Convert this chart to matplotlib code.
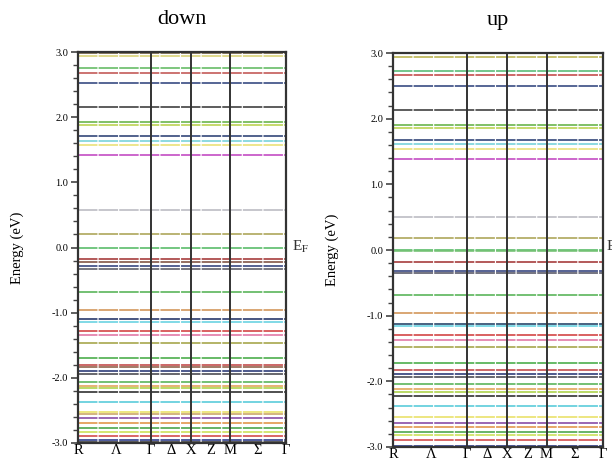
import matplotlib
matplotlib.use("Agg")
import matplotlib.pyplot as plt

plt.rcParams['font.family'] = ['Liberation Serif', 'DejaVu Serif']
plt.rcParams['axes.unicode_minus'] = False
plt.rcParams['mathtext.fontset'] = 'stix'

# high-symmetry points (fraction of path) and labels
k_ticks = [0.0, 0.351, 0.543, 0.731, 1.0]
k_labels = ["R", "Λ", "Γ", "Δ", "X", "Z", "M", "Σ", "Γ"]
k_label_pos = [0.0, 0.183, 0.351, 0.447, 0.543, 0.64, 0.731, 0.865, 1.0]

# band energies (eV) and colours, spin down
down_E = [2.98, 2.94, 2.75, 2.68, 2.53, 2.15, 1.92, 1.88, 1.71, 1.63, 1.57, 1.42,
          0.57, 0.21, -0.01, -0.18, -0.22, -0.29, -0.33, -0.69, -0.96, -1.10, -1.14,
          -1.28, -1.34, -1.47, -1.70, -1.80, -1.83, -1.90, -1.94, -2.06, -2.12,
          -2.16, -2.21, -2.37, -2.52, -2.55, -2.62, -2.70, -2.77, -2.83, -2.90,
          -2.96, -2.99]
down_C = ["#6b5a3a", "#d8d070", "#5cb85c", "#c0504d", "#2a3f7a", "#333333", "#60b040",
          "#b8d048", "#253a70", "#70d0d8", "#e8e070", "#c040c0",
          "#b8b8c0", "#a8a050", "#50b860", "#a03030", "#7a4a3a", "#2a3a78", "#555560",
          "#50b050", "#d09050", "#1a2a60", "#60d0e0",
          "#d03838", "#e070a0", "#a0a040", "#40a840", "#c04040", "#8a5a40", "#203070",
          "#404048", "#50b050", "#e0a050",
          "#a8d040", "#222222", "#50c8d8", "#e8e060", "#c8a060", "#8040a0", "#e09040",
          "#40a040", "#c8e050", "#d04040",
          "#203080", "#303030"]

# spin up
up_E = [2.94, 2.73, 2.66, 2.50, 2.13, 1.90, 1.86, 1.67, 1.61, 1.54, 1.39,
        0.51, 0.18, 0.0, -0.02, -0.19, -0.32, -0.35, -0.68, -0.96, -1.12, -1.16,
        -1.30, -1.37, -1.47, -1.72, -1.82, -1.89, -1.93, -2.04, -2.12, -2.16,
        -2.22, -2.37, -2.54, -2.63, -2.69, -2.77, -2.81, -2.89, -2.99]
up_C = ["#b8b048", "#50b870", "#c04040", "#2a3f7a", "#333333", "#60b040", "#b8d048",
        "#253a70", "#70d0d8", "#e8e070", "#c040c0",
        "#b8b8c0", "#a8a050", "#50b860", "#70c070", "#a03030", "#2a3a78", "#505060",
        "#50b050", "#d09050", "#1a3a60", "#60d0e0",
        "#d03838", "#e070a0", "#a0a040", "#40a840", "#c04040", "#203070", "#404048",
        "#50b050", "#e0a050", "#a8d040",
        "#222222", "#50c8d8", "#e8e060", "#8040a0", "#e09040", "#40a040", "#c8e050",
        "#d04040", "#203080"]

panels = [
    ("down", down_E, down_C, [78/612, 1-443/462, 208/612, 391/462], 292),
    ("up", up_E, up_C, [393/612, 1-447/462, 210/612, 394/462], 606),
]

fig = plt.figure(figsize=(6.12, 4.62), dpi=100)

for title, E, C, rect, efx in panels:
    ax = fig.add_axes(rect)
    for e, c in zip(E, C):
        ax.plot([0, 1], [e, e], color=c, lw=1.4, alpha=0.8,
                linestyle=(0, (10, 0.6)), solid_capstyle='butt')
    for k in k_ticks[1:-1]:
        ax.axvline(k, color="#333333", lw=1.4)
    ax.set_xlim(0, 1)
    ax.set_ylim(-3.0, 3.0)
    ax.set_yticks([3.0, 2.0, 1.0, 0.0, -1.0, -2.0, -3.0])
    ax.set_yticklabels(["3.0", "2.0", "1.0", "0.0", "-1.0", "-2.0", "-3.0"])
    ax.set_yticks([i * 0.2 - 3.0 for i in range(31)], minor=True)
    ax.tick_params(axis='y', which='major', direction='out', length=5, width=1.2,
                   labelsize=7.5, pad=2, color="#444444")
    ax.tick_params(axis='y', which='minor', direction='out', length=3.5, width=1.0,
                   color="#444444")
    ax.set_xticks(k_label_pos)
    ax.set_xticklabels(k_labels)
    ax.tick_params(axis='x', length=0, labelsize=10.5, pad=1)
    for s in ax.spines.values():
        s.set_linewidth(1.6)
        s.set_color("#333333")
    ax.set_ylabel("Energy (eV)", fontsize=10.5, labelpad=20)
    ax.set_title(title, fontsize=16, pad=20)
    fig.text(efx / 612, 1 - 247 / 462, r"E$_\mathrm{F}$", fontsize=11,
             va='center', ha='left', color="#333333")

fig.savefig("out.png", dpi=100)
